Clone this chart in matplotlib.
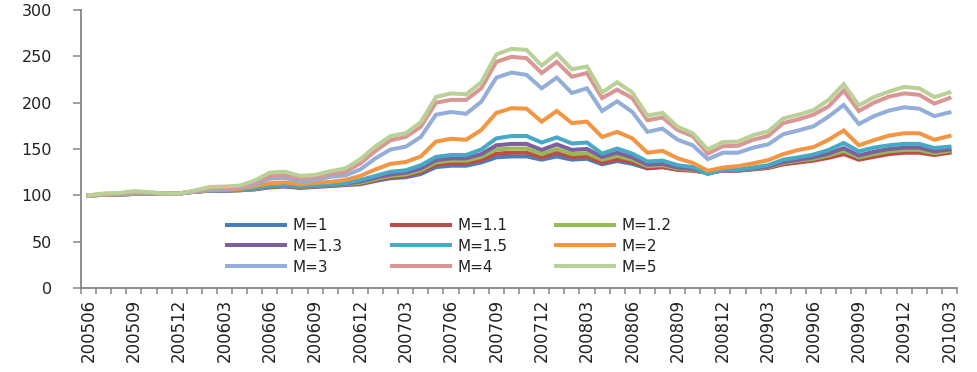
import matplotlib
matplotlib.use("Agg")
import matplotlib.pyplot as plt
import numpy as np

months = [
    "200506", "200507", "200508", "200509", "200510", "200511", "200512",
    "200601", "200602", "200603", "200604", "200605", "200606", "200607", "200608", "200609", "200610", "200611", "200612",
    "200701", "200702", "200703", "200704", "200705", "200706", "200707", "200708", "200709", "200710", "200711", "200712",
    "200801", "200802", "200803", "200804", "200805", "200806", "200807", "200808", "200809", "200810", "200811", "200812",
    "200901", "200902", "200903", "200904", "200905", "200906", "200907", "200908", "200909", "200910", "200911", "200912",
    "201001", "201002", "201003",
]

m1 = [100, 100.5, 101, 101.5, 102, 102, 102, 104, 105, 105, 105.5, 106.5, 108.5, 109.5, 108, 109, 110, 111, 112,
      115.5, 118.5, 119.5, 123, 130.5, 132, 132, 135.5, 141, 142, 142, 138.5,
      142, 138.5, 139.5, 133.5, 137, 134, 129, 130.5, 128, 127, 125, 127,
      127, 128.5, 130, 134, 136, 138, 141.5, 145.5, 139, 142.5, 145.5, 147,
      147, 144.5, 147]
m11 = [100, 100.5, 101, 101.5, 102, 102, 102, 104, 105, 105, 105.5, 106.5, 109, 110, 108.5, 109.5, 110.5, 111.5, 112.5,
       116.5, 119.5, 121, 125, 133, 134.5, 134.5, 138, 145, 146, 146, 141,
       146, 141, 142, 135, 139, 136, 129.5, 130.5, 127.5, 126.5, 124.5, 126.5,
       126.5, 128, 129.5, 133.5, 135.5, 137.5, 140.5, 144.5, 138.5, 141.5, 144.5, 146,
       146, 143.5, 146]
m12 = [100, 100.5, 101, 101.5, 102, 102, 102, 104, 105, 105, 105.5, 107, 109.5, 110.5, 109, 110, 111, 112, 113.5,
       117.5, 121, 122.5, 127, 135.5, 137.5, 137.5, 141.5, 149.5, 150.5, 150.5, 144.5,
       150, 144.5, 145.5, 138.5, 142.5, 138.5, 131.5, 132.5, 129, 127.5, 124, 127,
       127, 128.5, 130.5, 135, 137.5, 139.5, 143, 148, 141, 144.5, 147.5, 149,
       149, 145.5, 148]
m13 = [100, 100.5, 101, 101.5, 102, 102, 102, 104, 105, 105, 106, 107.5, 110, 111, 109.5, 110.5, 111.5, 112.5, 115,
       119, 122.5, 124.5, 129, 138, 140, 140, 144.5, 154, 155.5, 155.5, 149,
       155, 149, 150, 141.5, 146, 141, 133, 134, 130, 128.5, 123.5, 127,
       127, 129, 131, 136, 138.5, 141, 145, 151, 143, 147, 150, 151.5,
       151.5, 147.5, 149.5]
m15 = [100, 100.5, 101, 101.5, 102, 102, 102, 104, 105, 105.5, 106, 108, 110.5, 111.5, 110, 111, 112, 113, 116.5,
       121, 125.5, 127, 132.5, 141.5, 143.5, 143.5, 149.5, 161.5, 164, 164, 157,
       162.5, 156, 157, 145, 150.5, 145, 136.5, 137.5, 132.5, 130.5, 123, 127.5,
       127.5, 130, 132.5, 138.5, 141, 144, 149, 156.5, 147.5, 151.5, 154, 155.5,
       155.5, 151, 152.5]
m2 = [100, 100.5, 101, 102, 102, 102, 102, 104, 105.5, 106, 107, 110, 113, 114, 112, 113.5, 114.5, 116.5, 121,
      128, 134, 136, 142, 158, 161, 160, 170.5, 189, 194, 193.5, 179.5,
      191, 178, 179.5, 163, 168.5, 161.5, 146, 148, 140, 135, 126.5, 130,
      131.5, 134.5, 138, 144.5, 149, 152, 160, 170, 154, 159.5, 164.5, 167,
      167, 160, 164]
m3 = [100, 101, 101.5, 102.5, 102.5, 102, 102, 104, 106.5, 107, 108, 112, 118, 119, 115, 116.5, 120, 121.5, 128,
      140, 149.5, 152.5, 163, 187, 190, 188, 201, 227, 232.5, 230, 215.5,
      227, 210.5, 215.5, 191, 201.5, 190, 168.5, 172, 160, 154, 139, 146,
      146, 151.5, 155, 166, 170, 174.5, 185, 197.5, 177, 185.5, 191.5, 195,
      193.5, 185.5, 189.5]
m4 = [100, 101.5, 102, 103.5, 103, 102, 102, 104.5, 107.5, 108, 109, 114, 121, 122, 118, 119.5, 123, 125.5, 134.5,
      148, 159.5, 163, 174, 200, 203, 203, 215.5, 244, 249.5, 248, 232,
      244, 228, 232, 205, 214, 205, 181, 184, 170.5, 164, 145, 153,
      153.5, 160, 164, 178, 182, 187, 196, 213, 191, 200, 206.5, 210,
      208.5, 199, 205]
m5 = [100, 102, 102.5, 104.5, 103.5, 102, 102, 105, 109, 109.5, 110.5, 116, 124.5, 125.5, 121, 122, 126, 129, 139,
      153, 164, 167, 179, 206, 210, 209, 222, 252, 258, 257, 240,
      253, 236, 239, 211, 222, 211, 186, 189, 174, 167, 149.5, 157.5,
      158, 165, 169, 183, 187, 192, 203, 220, 197, 206, 212, 217,
      215.5, 206, 211]

series_labels = ["M=1", "M=1.1", "M=1.2", "M=1.3", "M=1.5", "M=2", "M=3", "M=4", "M=5"]
series_values = [m1, m11, m12, m13, m15, m2, m3, m4, m5]
colors = ["#4A7EBB", "#BE4B48", "#98B954", "#7D60A0", "#46AAC5", "#F49542",
          "#93AED8", "#D99694", "#B9D197"]

plt.rcParams['font.family'] = ['DejaVu Sans']

fig = plt.figure(figsize=(9.78, 3.72), dpi=100)
ax = fig.add_axes([81 / 978, 1 - 288 / 372, (957 - 81) / 978, (288 - 10) / 372])

x = np.arange(len(months))
handles = []
for vals, lab, col in zip(series_values, series_labels, colors):
    h, = ax.plot(x, vals, color=col, lw=2.9, label=lab, solid_joinstyle='miter')
    handles.append(h)

ax.set_xlim(-0.5, len(months) - 0.5)
ax.set_ylim(0, 300)
ax.set_yticks(np.arange(0, 301, 50))
ax.set_yticklabels([str(v) for v in range(0, 301, 50)], fontsize=11.5, color="#222222")

ax.set_xticks(x[::3])
ax.set_xticklabels(months[::3], rotation=90, fontsize=12, color="#222222")
ax.set_xticks(np.arange(-0.5, len(months), 1), minor=True)
ax.tick_params(axis='x', which='major', length=0, pad=8)
ax.tick_params(axis='x', which='minor', length=4.5, width=1.1, color="#868686", direction='out')
ax.tick_params(axis='y', which='major', length=6, width=1.1, color="#868686", direction='out', pad=15)

for s in ['top', 'right']:
    ax.spines[s].set_visible(False)
for s in ['left', 'bottom']:
    ax.spines[s].set_color("#868686")
    ax.spines[s].set_linewidth(1.3)

# row-wise ordering (3 columns)
order = [0, 3, 6, 1, 4, 7, 2, 5, 8]
leg = ax.legend([handles[i] for i in order], [series_labels[i] for i in order],
                ncol=3, loc='upper left', bbox_to_anchor=(227 / 978, 1 - 218 / 372),
                bbox_transform=fig.transFigure, frameon=False, fontsize=11,
                handlelength=3.8, handletextpad=0.5, columnspacing=3.2,
                labelspacing=0.38, borderpad=0, borderaxespad=0)
for t in leg.get_texts():
    t.set_color("#222222")

fig.savefig("out.png", dpi=100)
